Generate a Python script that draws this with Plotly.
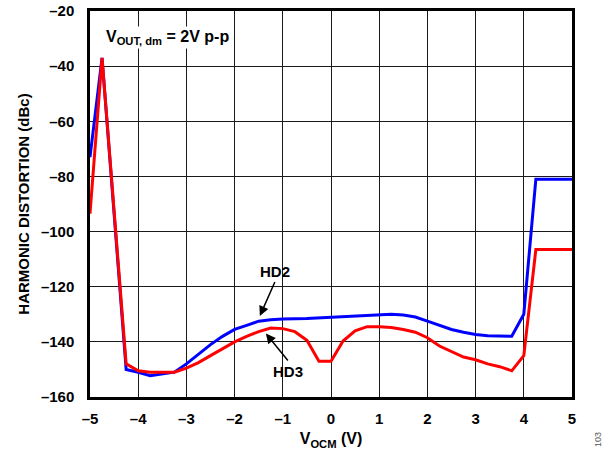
import plotly.graph_objects as go

hd2_x = [-5, -4.75, -4.25, -4, -3.75, -3.25, -3, -2.75, -2.5, -2.25, -2, -1.75, -1.5,
         -1.25, -1, -0.5, 0, 0.5, 1, 1.25, 1.5, 1.75, 2, 2.25, 2.5, 2.75, 3, 3.25,
         3.5, 3.75, 4, 4.25, 5]
hd2_y = [-73, -37, -150, -151, -152.3, -151, -148, -144.5, -141, -138, -135.5, -134,
         -132.5, -132, -131.7, -131.5, -131, -130.5, -130, -130, -130.3, -131, -132.5,
         -134, -135.5, -136.5, -137.3, -137.8, -138, -138, -130, -81, -81]

hd3_x = [-5, -4.75, -4.25, -4, -3.75, -3.5, -3.25, -3, -2.75, -2.5, -2.25, -2, -1.75,
         -1.5, -1.25, -1, -0.75, -0.5, -0.25, 0, 0.25, 0.5, 0.75, 1, 1.25, 1.5, 1.75,
         2, 2.25, 2.5, 2.75, 3, 3.25, 3.5, 3.75, 4, 4.25, 5]
hd3_y = [-93.5, -37, -148, -150.5, -151, -151, -151, -149.5, -147.5, -145, -142.5,
         -140, -138, -136.3, -135, -135.2, -136.3, -139.4, -147, -147, -139.7, -136,
         -134.5, -134.5, -134.8, -135.5, -136.5, -138.5, -141.5, -143.5, -145.5,
         -146.5, -148, -149, -150.5, -145, -106.5, -106.5]

x_ticks = [-5, -4, -3, -2, -1, 0, 1, 2, 3, 4, 5]
x_labels = ["–5", "–4", "–3", "–2", "–1", "0", "1", "2", "3", "4", "5"]
y_ticks = [-20, -40, -60, -80, -100, -120, -140, -160]
y_labels = ["–20", "–40", "–60", "–80", "–100", "–120", "–140", "–160"]

FONT = "Liberation Sans, Arial, sans-serif"

fig = go.Figure()
fig.add_trace(go.Scatter(x=hd2_x, y=hd2_y, mode="lines", name="HD2",
                         line=dict(color="#0000FF", width=3)))
fig.add_trace(go.Scatter(x=hd3_x, y=hd3_y, mode="lines", name="HD3",
                         line=dict(color="#FF0000", width=3)))

fig.update_layout(
    width=607, height=455,
    margin=dict(l=90, r=35, t=11, b=58, autoexpand=False),
    paper_bgcolor="white", plot_bgcolor="white",
    showlegend=False,
    font=dict(family=FONT, color="black"),
    xaxis=dict(range=[-5, 5], tickvals=x_ticks, ticktext=x_labels,
               showgrid=True, gridcolor="#1a1a1a", gridwidth=1.4,
               showline=True, linecolor="black", linewidth=2.5, mirror=True,
               zeroline=False, ticks="", automargin=False, ticklabelstandoff=6,
               tickfont=dict(family=FONT, size=15, color="black", weight="bold"),
               title=dict(text="<b>V<sub>OCM</sub> (V)</b>", standoff=8,
                          font=dict(family=FONT, size=16, color="black"))),
    yaxis=dict(range=[-160, -20], tickvals=y_ticks, ticktext=y_labels,
               showgrid=True, gridcolor="#1a1a1a", gridwidth=1.4,
               showline=True, linecolor="black", linewidth=2.5, mirror=True,
               zeroline=False, ticks="", automargin=False, ticklabelstandoff=10,
               tickfont=dict(family=FONT, size=15, color="black", weight="bold"),
               title=dict(text="<b>HARMONIC DISTORTION (dBc)</b>", standoff=8,
                          font=dict(family=FONT, size=15, color="black"))),
)

fig.add_annotation(x=-4.70, y=-29.5, xref="x", yref="y", xanchor="left",
                   text="<b>V<sub>OUT, dm</sub> = 2V p-p</b>", showarrow=False,
                   bgcolor="white", font=dict(family=FONT, size=16, color="black"))

# HD2 label with arrow: arrow head on curve, label box bottom at arrow tail
fig.add_annotation(x=-1.476, y=-130.6, text="<b>HD2</b>", showarrow=True,
                   ax=15, ay=-34, xanchor="center", yanchor="bottom",
                   arrowhead=2, arrowsize=1.3, arrowwidth=1.5, arrowcolor="black",
                   standoff=0, font=dict(family=FONT, size=15, color="black"))
# HD3 label with arrow
fig.add_annotation(x=-1.351, y=-137.0, text="<b>HD3</b>", showarrow=True,
                   ax=22, ay=27, xanchor="center", yanchor="top",
                   arrowhead=2, arrowsize=1.3, arrowwidth=1.5, arrowcolor="black",
                   standoff=0, font=dict(family=FONT, size=15, color="black"))

fig.add_annotation(x=(598 - 90) / 482, y=(397 - 440) / 386, xref="paper", yref="paper",
                   text="103", showarrow=False, textangle=-90,
                   xanchor="center", yanchor="middle",
                   font=dict(family=FONT, size=9, color="#555555"))

fig.write_html("out.html", config={"displayModeBar": False},
               post_script="document.body.style.margin='0';document.body.style.overflow='hidden';")
